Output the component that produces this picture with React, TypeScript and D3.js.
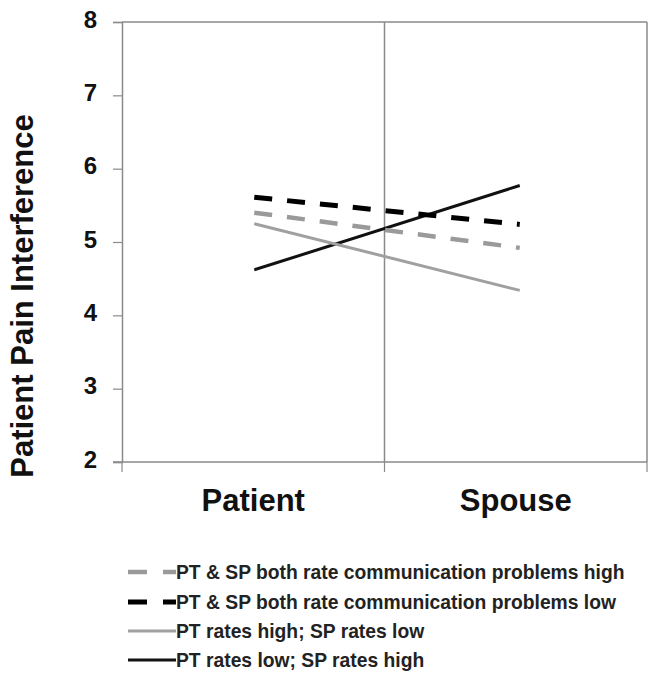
import React, { useRef, useEffect } from 'react';
import * as d3 from 'd3';

// categories on the x axis
const categories = ['Patient', 'Spouse'];
// y ticks
const yTicks = [2, 3, 4, 5, 6, 7, 8];

// series (value at Patient, value at Spouse)
const seriesNames = [
    'PT & SP both rate communication problems high',
    'PT & SP both rate communication problems low',
    'PT rates high; SP rates low',
    'PT rates low; SP rates high'
];
const bothHigh = [5.40, 4.92];
const bothLow = [5.61, 5.24];
const ptHighSpLow = [5.25, 4.34];
const ptLowSpHigh = [4.62, 5.77];

const seriesStyles = [
    { color: '#9a9a9a', width: 4.5, dash: '18,15' },
    { color: '#000000', width: 5, dash: '18,15' },
    { color: '#a0a0a0', width: 3, dash: null },
    { color: '#111111', width: 3, dash: null }
];

export default function App() {
    const svgRef = useRef(null);

    useEffect(() => {
        const W = 658, H = 679;
        const margin = { top: 22, right: 11, bottom: 217, left: 122 };
        const svg = d3.select(svgRef.current);
        svg.selectAll('*').remove();

        const x = d3.scaleBand().domain(categories).range([margin.left, W - margin.right]).padding(0);
        const y = d3.scaleLinear().domain([2, 8]).range([H - margin.bottom, margin.top]);
        const axisColor = '#8a8a8a';
        const font = 'Arial, "Liberation Sans", sans-serif';

        const x0 = margin.left, x1 = W - margin.right;
        const yTop = y(8), yBot = y(2);

        // frame: top + right border, category separator
        svg.append('line').attr('x1', x0).attr('x2', x1).attr('y1', yTop).attr('y2', yTop)
            .attr('stroke', axisColor).attr('stroke-width', 1.5);
        svg.append('line').attr('x1', x1).attr('x2', x1).attr('y1', yTop).attr('y2', yBot)
            .attr('stroke', axisColor).attr('stroke-width', 1.5);
        svg.append('line').attr('x1', x(categories[1])).attr('x2', x(categories[1])).attr('y1', yTop).attr('y2', yBot)
            .attr('stroke', axisColor).attr('stroke-width', 1.5);

        // y axis
        const yAxis = svg.append('g')
            .attr('transform', `translate(${x0},0)`)
            .call(d3.axisLeft(y).tickValues(yTicks).tickFormat(d3.format('d')).tickSize(9).tickPadding(16));
        yAxis.select('.domain').attr('stroke', axisColor).attr('stroke-width', 1.5);
        yAxis.selectAll('.tick line').attr('stroke', axisColor).attr('stroke-width', 1.2);
        yAxis.selectAll('.tick text')
            .attr('font-family', font).attr('font-size', 24).attr('font-weight', 'bold').attr('fill', '#111')
            .attr('dy', '0.22em');

        // x axis: labels at band centres, ticks at band edges
        const xAxis = svg.append('g')
            .attr('transform', `translate(0,${yBot})`)
            .call(d3.axisBottom(x).tickSize(0).tickPadding(27));
        xAxis.select('.domain').remove();
        xAxis.selectAll('.tick text')
            .attr('font-family', font).attr('font-size', 31).attr('font-weight', 'bold').attr('fill', '#111')
            .attr('dy', '0.71em');
        svg.append('line').attr('x1', x0 - 9).attr('x2', x1).attr('y1', yBot).attr('y2', yBot)
            .attr('stroke', axisColor).attr('stroke-width', 1.5);
        const edges = categories.map(c => x(c)).concat([x1]);
        svg.selectAll('.xedge').data(edges).enter().append('line')
            .attr('x1', d => d).attr('x2', d => d).attr('y1', yBot).attr('y2', yBot + 10)
            .attr('stroke', axisColor).attr('stroke-width', 1.2);

        // y label
        svg.append('text')
            .attr('transform', `translate(33,${296}) rotate(-90)`)
            .attr('text-anchor', 'middle')
            .attr('font-family', font).attr('font-size', 31).attr('font-weight', 'bold').attr('fill', '#111')
            .text('Patient Pain Interference');

        // lines
        const allSeries = [bothHigh, bothLow, ptHighSpLow, ptLowSpHigh];
        const line = d3.line()
            .x((d, i) => x(categories[i]) + x.bandwidth() / 2 + (i === 0 ? 1 : 4))
            .y(d => y(d));
        const order = [3, 2, 0, 1];
        order.forEach(i => {
            const s = seriesStyles[i];
            svg.append('path')
                .datum(allSeries[i])
                .attr('d', line)
                .attr('fill', 'none')
                .attr('stroke', s.color)
                .attr('stroke-width', s.width)
                .attr('stroke-dasharray', s.dash)
                .attr('stroke-linecap', 'butt');
        });

        // legend
        const legendY = [572, 602, 631, 660];
        seriesNames.forEach((name, i) => {
            const s = seriesStyles[i];
            const g = svg.append('g').attr('transform', `translate(0,${legendY[i]})`);
            g.append('line').attr('x1', 128).attr('x2', 176).attr('y1', 0).attr('y2', 0)
                .attr('stroke', s.color).attr('stroke-width', s.dash ? s.width : 3)
                .attr('stroke-dasharray', s.dash ? '19,16' : null);
            g.append('text').attr('x', 176).attr('y', 7)
                .attr('font-family', font).attr('font-size', 19.3).attr('font-weight', 'bold').attr('fill', '#222')
                .text(name);
        });
    }, []);

    return (
        <svg ref={svgRef} width={658} height={679}
            style={{ position: 'absolute', left: 0, top: 0, background: '#fff' }} />
    );
}
